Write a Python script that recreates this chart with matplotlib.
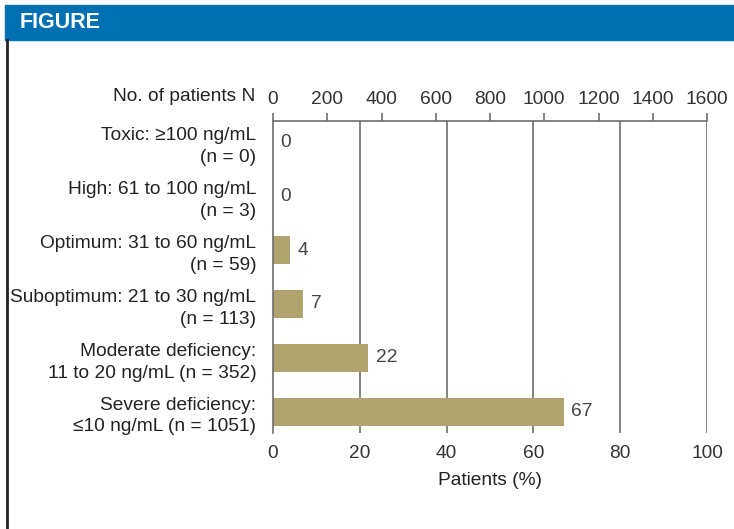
import matplotlib
matplotlib.use("Agg")
import matplotlib.pyplot as plt
from matplotlib.patches import Rectangle
from matplotlib.lines import Line2D

categories = [
    "Toxic: \u2265100 ng/mL\n(n = 0)",
    "High: 61 to 100 ng/mL\n(n = 3)",
    "Optimum: 31 to 60 ng/mL\n(n = 59)",
    "Suboptimum: 21 to 30 ng/mL\n(n = 113)",
    "Moderate deficiency:\n11 to 20 ng/mL (n = 352)",
    "Severe deficiency:\n\u226410 ng/mL (n = 1051)",
]
percent = [0, 0, 4, 7, 22, 67]
pct_ticks = [0, 20, 40, 60, 80, 100]
n_ticks = [0, 200, 400, 600, 800, 1000, 1200, 1400, 1600]

FONT = ["Liberation Sans", "DejaVu Sans"]
plt.rcParams["font.family"] = FONT
FS = 13.8

W, H = 734, 529
fig = plt.figure(figsize=(W / 100, H / 100), dpi=100)

# header band
fig.patches.append(Rectangle((5 / W, 1 - 40 / H), 1 - 5 / W, 35 / H,
                             transform=fig.transFigure, color="#0070b2", zorder=0))
fig.text(20 / W, 1 - 23 / H, "FIGURE", color="white", fontsize=15.5,
         fontweight="bold", va="center", ha="left")
fig.lines.append(Line2D([7 / W, 7 / W], [0, 1 - 40 / H], transform=fig.transFigure,
                        color="#222222", lw=2))

ax = fig.add_axes([273 / W, 1 - 433 / H, 434 / W, 312 / H])
y = list(range(len(categories)))
ax.barh(y, percent, height=0.52, color="#afa36e", zorder=2)
ax.set_xlim(0, 100)
ax.set_ylim(len(categories) - 0.61, -0.39)
ax.set_yticks(y)
ax.set_yticklabels(categories, fontsize=FS, color="#222222", ha="right",
                   multialignment="right", linespacing=1.35)
ax.tick_params(axis="y", length=0, pad=12)
ax.set_xticks(pct_ticks)
ax.tick_params(axis="x", length=0, labelsize=FS, labelcolor="#333333", pad=9)
for xv in pct_ticks[1:]:
    ax.axvline(xv, color="#6e6e6e", lw=1.2, zorder=1)
for s in ["right", "bottom", "top"]:
    ax.spines[s].set_visible(False)
ax.spines["left"].set_color("#6e6e6e")
ax.spines["left"].set_linewidth(1.2)
ax.spines["left"].set_zorder(3)
ax.set_xlabel("Patients (%)", fontsize=FS, color="#222222", labelpad=7)

for yi, v in zip(y, percent):
    ax.annotate(str(v), (v, yi), xytext=(5.5, 0), textcoords="offset points",
                va="center", ha="left", fontsize=FS, color="#444444")

ax2 = ax.twiny()
ax2.set_xlim(0, 1600)
ax2.set_xticks(n_ticks)
ax2.tick_params(axis="x", direction="out", length=6, width=1.2, color="#6e6e6e",
                labelsize=FS, labelcolor="#333333", pad=3.5)
for s in ["right", "bottom", "left"]:
    ax2.spines[s].set_visible(False)
ax2.spines["top"].set_color("#6e6e6e")
ax2.spines["top"].set_linewidth(1.2)
ax2.annotate("No. of patients N", (0, 1), xycoords="axes fraction",
             xytext=(-13, 17.5), textcoords="offset points", ha="right",
             va="center", fontsize=FS, color="#222222")

fig.savefig("out.png", dpi=100)
